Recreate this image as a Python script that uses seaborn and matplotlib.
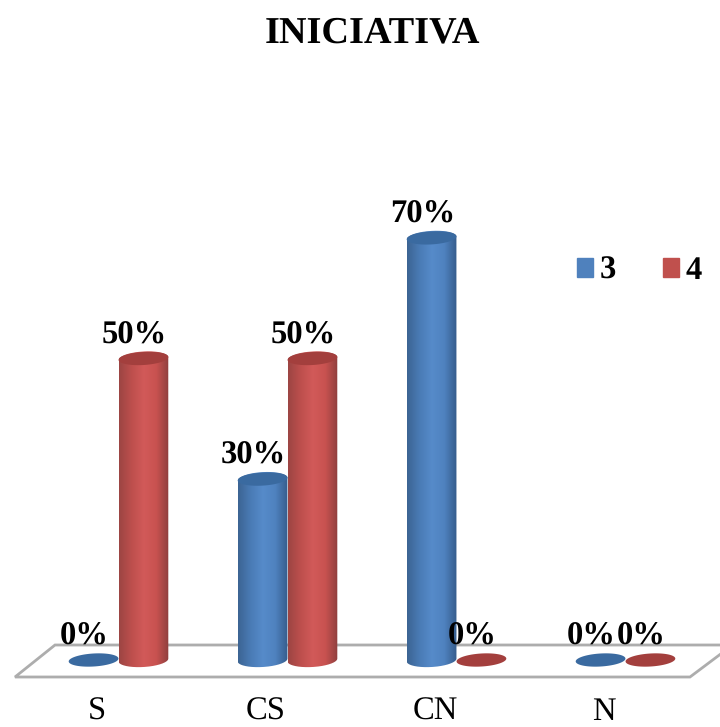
import numpy as np
import pandas as pd
import seaborn as sns
import matplotlib.pyplot as plt
from matplotlib.colors import LinearSegmentedColormap
from matplotlib.patches import PathPatch, Patch, Polygon
from matplotlib.path import Path

categories = ["S", "CS", "CN", "N"]
series_names = ["3", "4"]
values_3 = [0, 30, 70, 0]
values_4 = [50, 50, 0, 0]
title = "INICIATIVA"

W, H = 720, 727
X0, DX = 118.5, 169.0   # pixel x of the first group, group spacing
Y0, DY = 660.0, 6.03    # pixel y of 0%, pixels per 1%

BLUE = ["#3c6493", "#4a7bb5", "#568bca", "#4f82bf", "#365d8c"]
RED = ["#9c4543", "#bd4f4d", "#d25a59", "#c85250", "#8f3f3e"]
TOP = {"3": "#3a6aa0", "4": "#a33f3d"}

sns.set_theme(style="white")
plt.rcParams["font.family"] = ["Liberation Serif", "DejaVu Serif"]
plt.rcParams["text.hinting"] = "no_hinting"

df = pd.DataFrame({
    "cat": categories * 2,
    "serie": [series_names[0]] * 4 + [series_names[1]] * 4,
    "val": values_3 + values_4,
})

fig = plt.figure(figsize=(W / 100, H / 100), dpi=100)
ax = fig.add_axes([0, 0, 1, 1])
sns.barplot(data=df, x="cat", y="val", hue="serie", order=categories,
            hue_order=series_names, palette=["#4f81bd", "#c0504d"],
            width=0.59, gap=0, legend=False, ax=ax, zorder=2)


def px_x(p):
    return (p - X0) / DX


def px_y(p):
    return (Y0 - p) / DY


def ellipse(cx, cy, w_px, h_px, n=80, start=0, stop=2 * np.pi):
    # slightly tilted ellipse, sizes in pixels, centre in data coordinates
    t = np.linspace(start, stop, n)
    a = np.radians(3.5)
    ex = w_px / 2 * np.cos(t)
    ey = h_px / 2 * np.sin(t)
    xp = ex * np.cos(a) - ey * np.sin(a)
    yp = ex * np.sin(a) + ey * np.cos(a)
    return np.column_stack([cx + xp / DX, cy + yp / DY])


xlim = (px_x(0), px_x(W))
ylim = (px_y(H), px_y(0))

# grey floor of the 3d chart
floor_x = [720, 55, 15, 690, 722]
floor_y = [645, 645, 677, 677, 653]
ax.plot(px_x(np.array(floor_x)), px_y(np.array(floor_y)), color="#adadad",
        lw=2.0, solid_joinstyle="miter", zorder=1)

for name, colors, bars in zip(series_names, [BLUE, RED], ax.containers):
    cmap = LinearSegmentedColormap.from_list(name, colors)
    grad = np.linspace(0, 1, 128).reshape(1, -1)
    for bar in bars:
        x, w, h = bar.get_x(), bar.get_width(), bar.get_height()
        bar.set_visible(False)
        cx = x + w / 2
        wpx = w * DX
        if h > 0:
            # the y axis points up, so pi..2pi is the lower half
            low = ellipse(cx, 0, wpx, 14, start=np.pi, stop=2 * np.pi)
            top = ellipse(cx, h, wpx, 14, start=0, stop=np.pi)
            outline = np.vstack([low, top])
            im = ax.imshow(grad, cmap=cmap, aspect="auto", zorder=2,
                           extent=(x, x + w, -3, h + 3))
            im.set_clip_path(PathPatch(Path(np.vstack([outline, outline[:1]])),
                                       transform=ax.transData))
        ax.add_patch(Polygon(ellipse(cx, h, wpx, 13), closed=True,
                             facecolor=TOP[name], edgecolor="none", zorder=3))
        ax.annotate(f"{h:.0f}%", (cx, h), xytext=(-9, 23),
                    textcoords="offset pixels", ha="center", va="center",
                    fontsize=23.5, fontweight="bold", color="black", zorder=5)

ax.set_xlim(xlim)
ax.set_ylim(ylim)
ax.set_xlabel("")
ax.set_ylabel("")
ax.set_yticks([])
ax.set_xticks([])
for s in ax.spines.values():
    s.set_visible(False)

for i, c in enumerate(categories):
    ax.annotate(c, (i, 0), xytext=(-21.5, -52), textcoords="offset pixels",
                ha="center", va="center", fontsize=23.5, color="black")

ax.text(px_x(372.5), px_y(33), title, ha="center", va="center",
        fontsize=27.5, fontweight="bold", color="black")

handles = [Patch(color="#4f81bd"), Patch(color="#c0504d")]
leg = ax.legend(handles, series_names, ncol=2, frameon=False,
                loc="center left", bbox_to_anchor=(577 / W, 1 - 271 / H),
                borderpad=0, borderaxespad=0, handlelength=0.49, handleheight=0.49,
                handletextpad=0.2, columnspacing=1.45, labelcolor="black",
                prop={"family": "Liberation Serif", "weight": "bold", "size": 23.5})

fig.savefig("out.png", dpi=100)
